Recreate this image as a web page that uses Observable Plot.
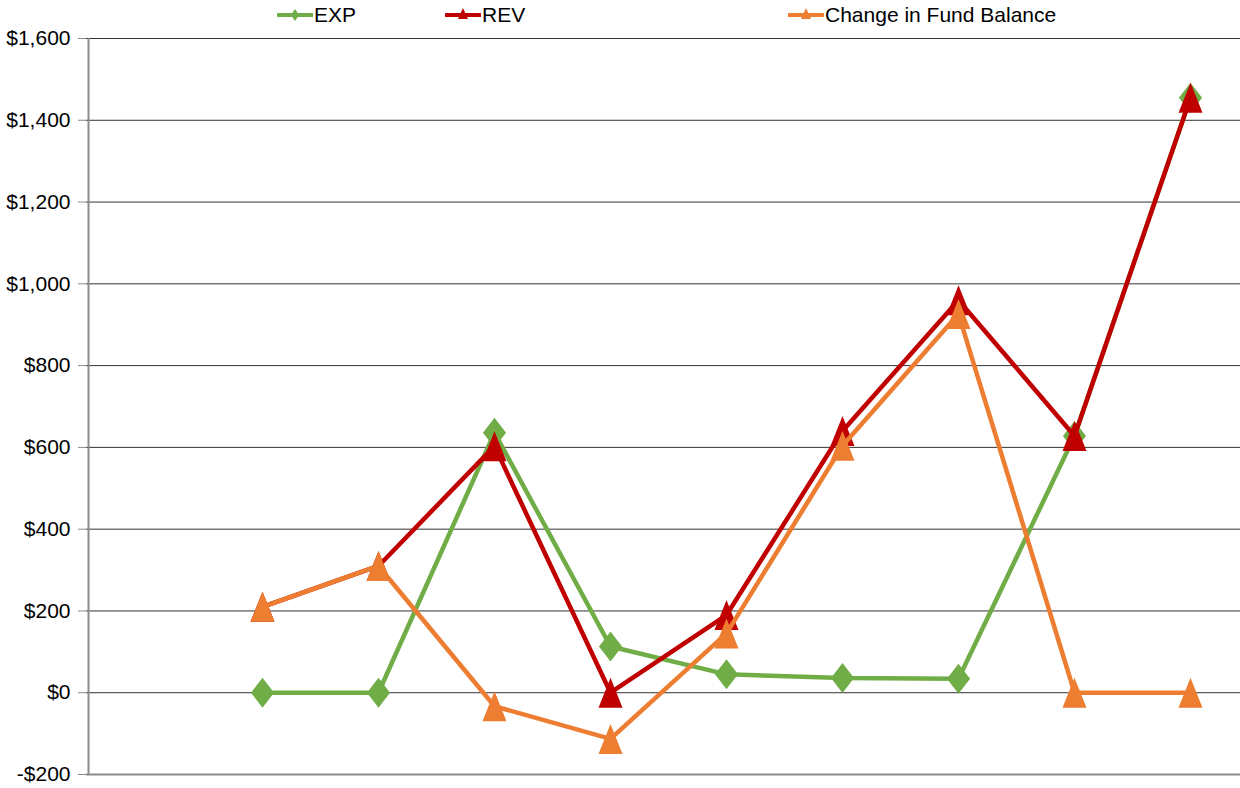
<!DOCTYPE html>
<html>
<head>
<meta charset="utf-8">
<script src="https://cdn.jsdelivr.net/npm/d3@7"></script>
<script src="https://cdn.jsdelivr.net/npm/@observablehq/plot@0.6"></script>
<style>
  html, body { margin: 0; padding: 0; background: #fff; }
  body { width: 1240px; height: 788px; overflow: hidden; font-family: "Liberation Sans Narrow", "Arial Narrow", "Liberation Sans", sans-serif; }
  #legend { position: relative; height: 24px; font-size: 21px; color: #000; }
  .item { position: absolute; top: 0; height: 30px; display: flex; align-items: center; }
  .item svg { display: block; }
  .item span { margin-left: 1px; line-height: 30px; }
</style>
</head>
<body>
<div id="legend"></div>
<div id="chart"></div>
<script>
// ---- data ----
const periods = [1, 2, 3, 4, 5, 6, 7, 8, 9];           // unlabeled periods
const expValues    = [0, 0, 636, 113, 45, 36, 34, 628, 1455];
const revValues    = [210, 310, 603, 0, 190, 640, 960, 628, 1455];
const changeValues = [210, 310, -33, -113, 145, 604, 926, 0, 0];
const seriesNames  = ["EXP", "REV", "Change in Fund Balance"];
const seriesColors = ["#70AD47", "#C00000", "#ED7D31"];
const yTicks = [-200, 0, 200, 400, 600, 800, 1000, 1200, 1400, 1600];

// ---- custom marker shapes (bounding-box centred, like the reference) ----
const tallDiamond = {
  draw(ctx, size) {
    const r = Math.sqrt(size / Math.PI), w = r * 0.77;
    ctx.moveTo(0, -r); ctx.lineTo(w, 0); ctx.lineTo(0, r); ctx.lineTo(-w, 0); ctx.closePath();
  }
};
const tallTriangle = {
  draw(ctx, size) {
    const r = Math.sqrt(size / Math.PI), w = r * 0.8;
    ctx.moveTo(0, -r); ctx.lineTo(w, r); ctx.lineTo(-w, r); ctx.closePath();
  }
};
const symbols = [tallDiamond, tallTriangle, tallTriangle];

const seriesValues = [expValues, revValues, changeValues];
const rows = seriesNames.map((name, s) =>
  periods.map((p, i) => ({series: name, period: p, value: seriesValues[s][i]})));

const fmt = d => (d < 0 ? "-" : "") + "$" + d3.format(",")(Math.abs(d));

// ---- legend ----
const legendLeft = [277, 445, 788];
const legend = document.getElementById("legend");
seriesNames.forEach((name, s) => {
  const div = document.createElement("div");
  div.className = "item";
  div.style.left = legendLeft[s] + "px";
  const shape = s === 0
    ? `<path d="M18,9 L22,15 L18,21 L14,15 Z" fill="${seriesColors[s]}"/>`
    : `<path d="M18,8 L23,19 L13,19 Z" fill="${seriesColors[s]}"/>`;
  div.innerHTML = `<svg width="36" height="30"><line x1="1" x2="35" y1="15" y2="15" stroke="${seriesColors[s]}" stroke-width="4" stroke-linecap="round"/>${shape}</svg><span>${name}</span>`;
  legend.appendChild(div);
});

// ---- chart ----
const marks = [
  Plot.ruleY(yTicks.filter(d => d > -200), {stroke: "#333333", strokeWidth: 1}),
  Plot.ruleY([-200], {stroke: "#8c8c8c", strokeWidth: 2}),
  Plot.ruleX([-0.5], {y1: -200, y2: 1600, stroke: "#8c8c8c", strokeWidth: 2}),
  Plot.axisY({ticks: yTicks, tickFormat: fmt, tickSize: 8, tickPadding: 8, fontSize: 21, stroke: "#8c8c8c", label: null})
];
rows.forEach((data, s) => {
  marks.push(Plot.line(data, {x: "period", y: "value", stroke: seriesColors[s], strokeWidth: 4.5}));
  marks.push(Plot.dot(data, {x: "period", y: "value", symbol: symbols[s], r: 15, fill: seriesColors[s], stroke: "none"}));
});

const chart = Plot.plot({
  width: 1240,
  height: 764,
  marginLeft: 86,
  marginRight: 0,
  marginTop: 14,
  marginBottom: 14,
  style: {fontFamily: '"Liberation Sans Narrow", "Arial Narrow", "Liberation Sans", sans-serif', fontSize: "21px", color: "#000", background: "#fff"},
  x: {type: "linear", domain: [-0.5, 9.5], range: [88, 1248], axis: null},
  y: {domain: [-200, 1600], range: [750, 14]},
  marks
});
document.getElementById("chart").appendChild(chart);
</script>
</body>
</html>
